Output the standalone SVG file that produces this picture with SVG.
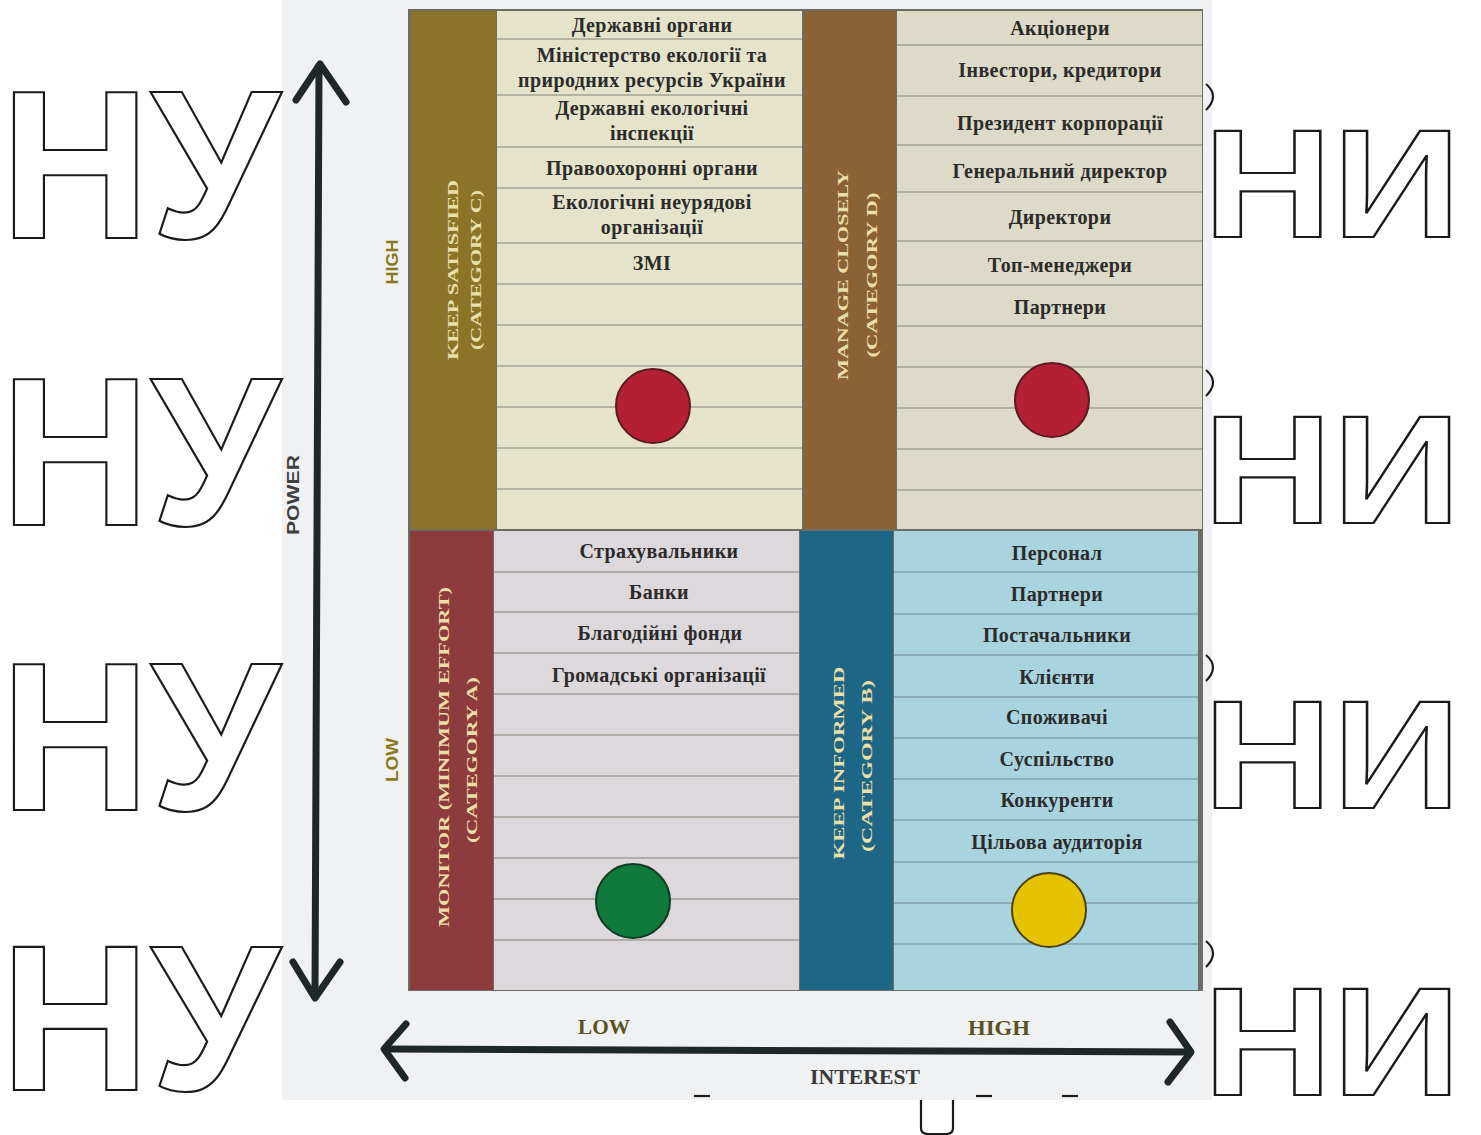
<svg xmlns="http://www.w3.org/2000/svg" width="1481" height="1135" viewBox="0 0 1481 1135">
<defs>
<style>
.item{font-family:"Liberation Serif","Times New Roman",serif;font-weight:bold;font-size:20px;letter-spacing:0.4px;fill:#2b2b2b;text-anchor:middle}
.cat{font-family:"Liberation Serif","Times New Roman",serif;font-weight:bold;font-size:14px;fill:#eadfa8;text-anchor:middle}
.row{stroke:#84847a;stroke-width:1.1}
.rowb{stroke:#6f8d98;stroke-width:1.1}
.axis{fill:none;stroke:#1f2727;stroke-width:7;stroke-linecap:round;stroke-linejoin:round}
.ax{font-family:"Liberation Sans",Arial,sans-serif;font-weight:bold;font-size:17px;text-anchor:middle}
.axs{font-family:"Liberation Serif","Times New Roman",serif;font-weight:bold;font-size:20px;text-anchor:middle}
.wm{font-family:"Liberation Sans",Arial,sans-serif;font-weight:bold;fill:#ffffff;stroke:#1a1a1a;stroke-width:2.2}
.frag{fill:none;stroke:#1a1a1a;stroke-width:2.2}
</style>
</defs>
<rect width="1481" height="1135" fill="#ffffff"/>
<rect x="282" y="0" width="930" height="1100" fill="#eff1f2"/>

<g id="watermark">
<text class="wm" x="0" y="238" font-size="212" textLength="280" lengthAdjust="spacingAndGlyphs">НУ</text>
<text class="wm" x="0" y="525" font-size="212" textLength="280" lengthAdjust="spacingAndGlyphs">НУ</text>
<text class="wm" x="0" y="810" font-size="212" textLength="280" lengthAdjust="spacingAndGlyphs">НУ</text>
<text class="wm" x="0" y="1090" font-size="208" textLength="280" lengthAdjust="spacingAndGlyphs">НУ</text>
<text class="wm" x="1203" y="237" font-size="154" textLength="258" lengthAdjust="spacingAndGlyphs">НИ</text>
<text class="wm" x="1203" y="523" font-size="154" textLength="258" lengthAdjust="spacingAndGlyphs">НИ</text>
<text class="wm" x="1203" y="808" font-size="154" textLength="258" lengthAdjust="spacingAndGlyphs">НИ</text>
<text class="wm" x="1203" y="1095" font-size="154" textLength="258" lengthAdjust="spacingAndGlyphs">НИ</text>
<path class="frag" d="M1206 84 Q1220 96 1206 110"/>
<path class="frag" d="M1206 370 Q1220 382 1206 396"/>
<path class="frag" d="M1206 655 Q1220 667 1206 681"/>
<path class="frag" d="M1206 941 Q1220 953 1206 967"/>
<path class="frag" d="M921 1100 L921 1128 Q921 1134 928 1134 L946 1134 Q953 1134 953 1128 L953 1100"/>
<line class="frag" x1="694" y1="1096" x2="710" y2="1096"/>
<line class="frag" x1="976" y1="1096" x2="992" y2="1096"/>
<line class="frag" x1="1062" y1="1096" x2="1078" y2="1096"/>
</g>

<g id="grid-frame">
<rect x="408" y="9" width="795" height="982" fill="#6d6d66"/>
</g>

<g id="keep-satisfied">
<rect x="411" y="11" width="85" height="518" fill="#8b7428"/>
<rect x="497" y="11" width="305" height="518" fill="#e5e4ca"/>
<g>
<line class="row" x1="497" y1="39" x2="802" y2="39"/>
<line class="row" x1="497" y1="95" x2="802" y2="95"/>
<line class="row" x1="497" y1="147" x2="802" y2="147"/>
<line class="row" x1="497" y1="188" x2="802" y2="188"/>
<line class="row" x1="497" y1="243" x2="802" y2="243"/>
<line class="row" x1="497" y1="284" x2="802" y2="284"/>
<line class="row" x1="497" y1="325" x2="802" y2="325"/>
<line class="row" x1="497" y1="366" x2="802" y2="366"/>
<line class="row" x1="497" y1="407" x2="802" y2="407"/>
<line class="row" x1="497" y1="448" x2="802" y2="448"/>
<line class="row" x1="497" y1="489" x2="802" y2="489"/>
</g>
<text class="item" x="652" y="32">Державні органи</text>
<text class="item" x="652" y="62">Міністерство екології та</text>
<text class="item" x="652" y="87">природних ресурсів України</text>
<text class="item" x="652" y="115">Державні екологічні</text>
<text class="item" x="652" y="140">інспекції</text>
<text class="item" x="652" y="175">Правоохоронні органи</text>
<text class="item" x="652" y="209">Екологічні неурядові</text>
<text class="item" x="652" y="234">організації</text>
<text class="item" x="652" y="270">ЗМІ</text>
<text class="cat" x="458" y="270" transform="rotate(-90 458 270)" textLength="180" lengthAdjust="spacingAndGlyphs">KEEP SATISFIED</text>
<text class="cat" x="481" y="270" transform="rotate(-90 481 270)" textLength="160" lengthAdjust="spacingAndGlyphs">(CATEGORY C)</text>
<circle cx="653" cy="406" r="37" fill="#b51f33" stroke="#5a1b22" stroke-width="2"/>
</g>

<g id="manage-closely">
<rect x="804" y="11" width="92" height="518" fill="#8a6235"/>
<rect x="897" y="11" width="305" height="518" fill="#dddac7"/>
<g>
<line class="row" x1="897" y1="45" x2="1202" y2="45"/>
<line class="row" x1="897" y1="96" x2="1202" y2="96"/>
<line class="row" x1="897" y1="145" x2="1202" y2="145"/>
<line class="row" x1="897" y1="192" x2="1202" y2="192"/>
<line class="row" x1="897" y1="241" x2="1202" y2="241"/>
<line class="row" x1="897" y1="285" x2="1202" y2="285"/>
<line class="row" x1="897" y1="326" x2="1202" y2="326"/>
<line class="row" x1="897" y1="367" x2="1202" y2="367"/>
<line class="row" x1="897" y1="408" x2="1202" y2="408"/>
<line class="row" x1="897" y1="449" x2="1202" y2="449"/>
<line class="row" x1="897" y1="490" x2="1202" y2="490"/>
</g>
<text class="item" x="1060" y="35">Акціонери</text>
<text class="item" x="1060" y="77">Інвестори, кредитори</text>
<text class="item" x="1060" y="130">Президент корпорації</text>
<text class="item" x="1060" y="178">Генеральний директор</text>
<text class="item" x="1060" y="224">Директори</text>
<text class="item" x="1060" y="272">Топ-менеджери</text>
<text class="item" x="1060" y="314">Партнери</text>
<text class="cat" x="848" y="275" transform="rotate(-90 848 275)" textLength="210" lengthAdjust="spacingAndGlyphs">MANAGE CLOSELY</text>
<text class="cat" x="877" y="275" transform="rotate(-90 877 275)" textLength="165" lengthAdjust="spacingAndGlyphs">(CATEGORY D)</text>
<circle cx="1052" cy="400" r="37" fill="#b51f33" stroke="#5a1b22" stroke-width="2"/>
</g>

<g id="monitor">
<rect x="410" y="531" width="83" height="459" fill="#8e3b3d"/>
<rect x="494" y="531" width="305" height="459" fill="#dcd8db"/>
<g>
<line class="row" x1="494" y1="572" x2="799" y2="572"/>
<line class="row" x1="494" y1="612" x2="799" y2="612"/>
<line class="row" x1="494" y1="653" x2="799" y2="653"/>
<line class="row" x1="494" y1="694" x2="799" y2="694"/>
<line class="row" x1="494" y1="735" x2="799" y2="735"/>
<line class="row" x1="494" y1="776" x2="799" y2="776"/>
<line class="row" x1="494" y1="817" x2="799" y2="817"/>
<line class="row" x1="494" y1="858" x2="799" y2="858"/>
<line class="row" x1="494" y1="899" x2="799" y2="899"/>
<line class="row" x1="494" y1="940" x2="799" y2="940"/>
</g>
<text class="item" x="659" y="558">Страхувальники</text>
<text class="item" x="659" y="599">Банки</text>
<text class="item" x="660" y="640">Благодійні фонди</text>
<text class="item" x="659" y="682">Громадські організації</text>
<text class="cat" x="449" y="757" transform="rotate(-90 449 757)" textLength="340" lengthAdjust="spacingAndGlyphs">MONITOR (MINIMUM EFFORT)</text>
<text class="cat" x="477" y="760" transform="rotate(-90 477 760)" textLength="166" lengthAdjust="spacingAndGlyphs">(CATEGORY A)</text>
<circle cx="633" cy="901" r="37" fill="#0f7a3c" stroke="#123a22" stroke-width="2"/>
</g>

<g id="keep-informed">
<rect x="800" y="531" width="93" height="459" fill="#1d6685"/>
<rect x="894" y="531" width="304" height="459" fill="#a9d3df"/>
<g>
<line class="rowb" x1="894" y1="572" x2="1198" y2="572"/>
<line class="rowb" x1="894" y1="614" x2="1198" y2="614"/>
<line class="rowb" x1="894" y1="655" x2="1198" y2="655"/>
<line class="rowb" x1="894" y1="697" x2="1198" y2="697"/>
<line class="rowb" x1="894" y1="738" x2="1198" y2="738"/>
<line class="rowb" x1="894" y1="779" x2="1198" y2="779"/>
<line class="rowb" x1="894" y1="820" x2="1198" y2="820"/>
<line class="rowb" x1="894" y1="862" x2="1198" y2="862"/>
<line class="rowb" x1="894" y1="903" x2="1198" y2="903"/>
<line class="rowb" x1="894" y1="944" x2="1198" y2="944"/>
</g>
<text class="item" x="1057" y="560">Персонал</text>
<text class="item" x="1057" y="601">Партнери</text>
<text class="item" x="1057" y="642">Постачальники</text>
<text class="item" x="1057" y="684">Клієнти</text>
<text class="item" x="1057" y="724">Споживачі</text>
<text class="item" x="1057" y="766">Суспільство</text>
<text class="item" x="1057" y="807">Конкуренти</text>
<text class="item" x="1057" y="849">Цільова аудиторія</text>
<text class="cat" x="844" y="763" transform="rotate(-90 844 763)" textLength="193" lengthAdjust="spacingAndGlyphs">KEEP INFORMED</text>
<text class="cat" x="872" y="766" transform="rotate(-90 872 766)" textLength="172" lengthAdjust="spacingAndGlyphs">(CATEGORY B)</text>
<circle cx="1049" cy="910" r="37" fill="#e5c300" stroke="#4a4212" stroke-width="2"/>
</g>

<g id="connectors">
<line class="axis" x1="319" y1="66" x2="315" y2="996"/>
<polyline class="axis" points="296,100 320,64 346,102"/>
<polyline class="axis" points="293,962 315,998 340,962"/>
<line class="axis" x1="386" y1="1049" x2="1188" y2="1052"/>
<polyline class="axis" points="406,1024 384,1049 405,1078"/>
<polyline class="axis" points="1170,1022 1191,1052 1168,1082"/>
</g>

<g id="axis-labels">
<text class="ax" x="398" y="262" fill="#8a7a1c" transform="rotate(-90 398 262)" textLength="45" lengthAdjust="spacingAndGlyphs">HIGH</text>
<text class="ax" x="398" y="760" fill="#8a7a1c" transform="rotate(-90 398 760)" textLength="44" lengthAdjust="spacingAndGlyphs">LOW</text>
<text class="ax" x="299" y="495" fill="#3f3f3f" font-size="19" transform="rotate(-90 299 495)" textLength="80" lengthAdjust="spacingAndGlyphs">POWER</text>
<text class="axs" x="604" y="1034" fill="#5a5223" textLength="52" lengthAdjust="spacingAndGlyphs">LOW</text>
<text class="axs" x="999" y="1035" fill="#5a5223" textLength="62" lengthAdjust="spacingAndGlyphs">HIGH</text>
<text class="axs" x="865" y="1084" fill="#3a3a3a" textLength="110" lengthAdjust="spacingAndGlyphs">INTEREST</text>
</g>
</svg>
